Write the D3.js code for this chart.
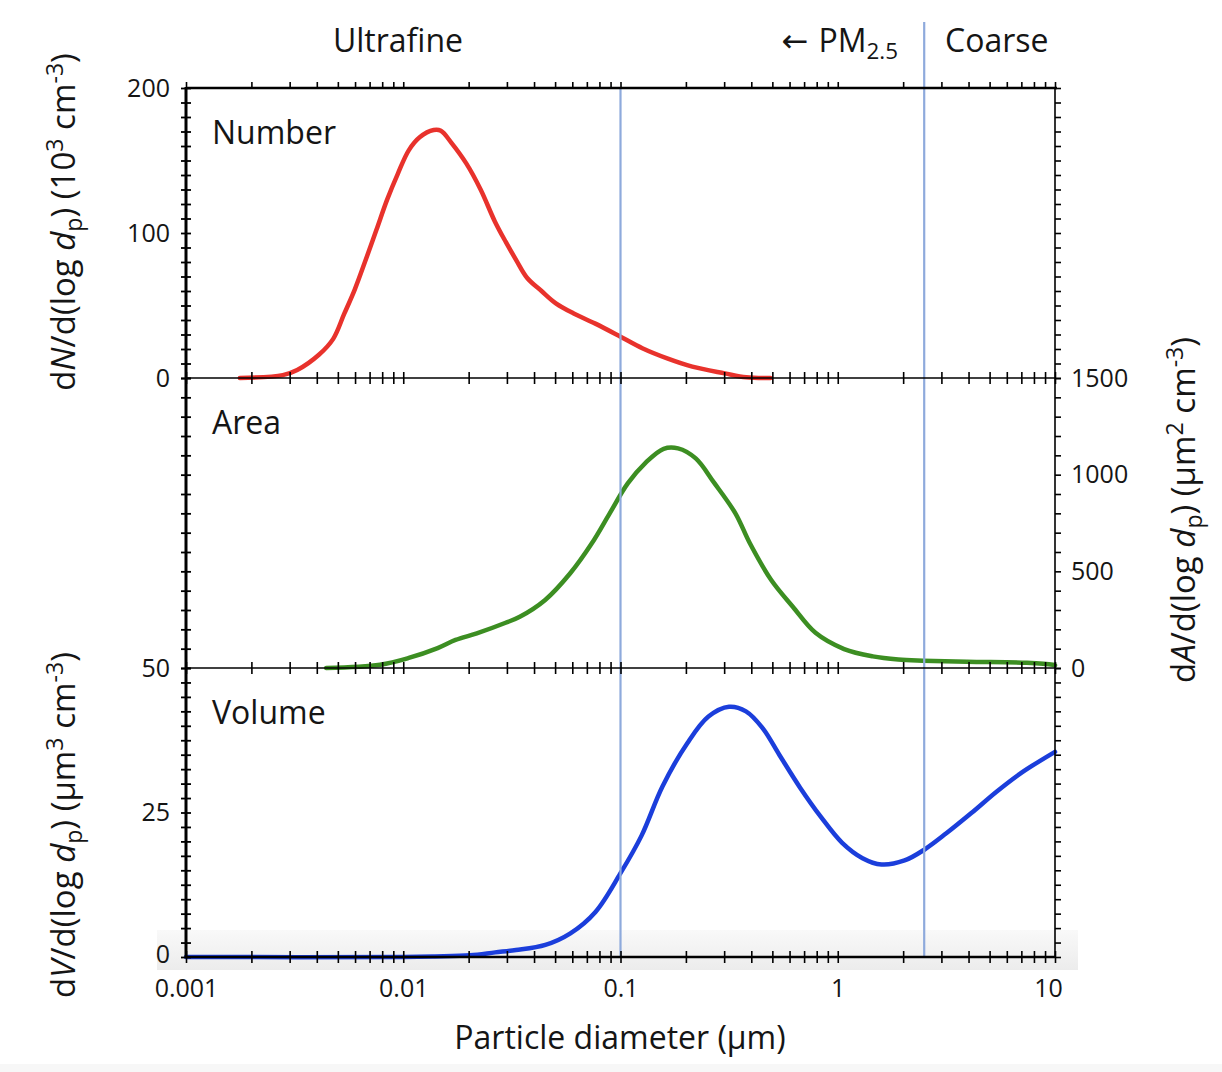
<!DOCTYPE html>
<html>
<head>
<meta charset="utf-8">
<script src="https://cdn.jsdelivr.net/npm/d3@7"></script>
<style>
body { margin: 0; background: #fff; }
text { font-family: "Open Sans", sans-serif; fill: #151515; }
</style>
</head>
<body>
<svg width="1222" height="1072"></svg>
<script>
/* Waarden: diameter (um) en dN, dA, dV per d(log dp) */
var numberDiam = [0.00177, 0.00279, 0.00325, 0.00409, 0.00476, 0.00534, 0.00598, 0.0067, 0.00752, 0.00843, 0.00945, 0.0106, 0.0119, 0.0138, 0.0149, 0.0167, 0.0195, 0.0227, 0.0264, 0.0296, 0.0332, 0.0372, 0.0433, 0.0504, 0.0609, 0.0766, 0.1, 0.126, 0.164, 0.214, 0.302, 0.379, 0.49];
var numberValue = [0, 2, 5.5, 16, 27, 44, 61, 81, 102, 123, 141, 157, 166, 171, 170.5, 162, 148, 130, 108, 94, 81, 69, 60, 51.5, 44.5, 37.5, 28.5, 20.5, 13.5, 7.8, 3.2, 0.5, 0];

var areaDiam = [0.00442, 0.00782, 0.0106, 0.0144, 0.0174, 0.0218, 0.0296, 0.0344, 0.045, 0.0587, 0.0738, 0.0892, 0.108, 0.13, 0.158, 0.184, 0.222, 0.269, 0.338, 0.394, 0.494, 0.621, 0.79, 1.07, 1.45, 1.9, 2.46, 3.93, 7.42, 9.77, 10];
var areaValue = [0, 17, 52, 103, 145, 179, 234, 265, 352, 490, 645, 800, 955, 1060, 1134, 1136, 1084, 960, 800, 645, 455, 317, 182, 98, 60, 44, 38, 32, 27, 17, 14];

var volumeDiam = [0.001, 0.01, 0.014, 0.0203, 0.0265, 0.033, 0.0451, 0.0588, 0.0767, 0.1, 0.125, 0.156, 0.203, 0.254, 0.316, 0.378, 0.451, 0.538, 0.671, 0.838, 1.045, 1.3, 1.59, 2.03, 2.51, 3.16, 4.12, 5.38, 7.02, 10];
var volumeValue = [0, 0, 0.1, 0.3, 0.8, 1.2, 2.1, 4.1, 7.8, 14.5, 21, 29.5, 37, 41.6, 43.3, 42.5, 39.6, 35, 29.3, 24.2, 19.8, 17.1, 16, 16.7, 18.6, 21.4, 24.9, 28.6, 31.9, 35.5];

/* As-labels */
var xTickValues = [0.001, 0.01, 0.1, 1, 10];
var xTickLabels = ["0.001", "0.01", "0.1", "1", "10"];
var numberTicks = [0, 100, 200];
var areaTicks = [0, 500, 1000, 1500];
var volumeTicks = [0, 25, 50];
var sizeBounds = [0.1, 2.5];

var svg = d3.select("svg");
var plotLeft = 186, plotRight = 1055, plotTop = 88, plotBottom = 957;

/* De x-as (logaritmisch) */
var x = d3.scaleLog().domain([0.001, 10]).range([plotLeft, plotRight]);

/* Drie y-schalen, een per paneel */
var yNumber = d3.scaleLinear().domain([0, 200]).range([378, plotTop]);
var yArea = d3.scaleLinear().domain([0, 1500]).range([668, 378]);
var yVolume = d3.scaleLinear().domain([0, 50]).range([plotBottom, 668]);

var panels = [
    {label: "Number", diam: numberDiam, value: numberValue, y: yNumber, step: 10, color: "#e8322c"},
    {label: "Area", diam: areaDiam, value: areaValue, y: yArea, step: 100, color: "#3c8e22"},
    {label: "Volume", diam: volumeDiam, value: volumeValue, y: yVolume, step: 2.5, color: "#1b3edb"}
];

/* Lichtgrijze band onderaan (zoals in het origineel) */
var grad = svg.append("defs").append("linearGradient")
    .attr("id", "band").attr("x1", 0).attr("y1", 0).attr("x2", 0).attr("y2", 1);
grad.append("stop").attr("offset", "0%").attr("stop-color", "#f9f9f9");
grad.append("stop").attr("offset", "100%").attr("stop-color", "#ececec");
svg.append("rect").attr("x", 157).attr("y", 930).attr("width", 921).attr("height", 40).attr("fill", "url(#band)");
svg.append("rect").attr("x", 0).attr("y", 1064).attr("width", 1222).attr("height", 8).attr("fill", "#f7f7f7");

/* Tekst met sub- en superscript */
function richText(sel, parts) {
    var shift = 0;
    parts.forEach(function(p) {
        var target = p.sub ? 7 : (p.sup ? -12 : 0);
        var t = sel.append("tspan").text(p.t).attr("dy", target - shift);
        if (p.sub || p.sup) t.attr("font-size", "0.7em");
        if (p.i) t.attr("font-style", "italic");
        if (p.font) t.style("font-family", p.font);
        shift = target;
    });
}

/* De curves */
panels.forEach(function(p) {
    var line = d3.line()
        .x(function(d) { return x(d[0]); })
        .y(function(d) { return p.y(d[1]); })
        .curve(d3.curveCatmullRom.alpha(0.5));

    svg.append("path")
        .datum(d3.zip(p.diam, p.value))
        .attr("fill", "none")
        .attr("stroke", p.color)
        .attr("stroke-width", 4.5)
        .attr("stroke-linejoin", "round")
        .attr("stroke-linecap", "round")
        .attr("d", line);
});

/* Verticale grenzen bij 0.1 en 2.5 um */
svg.selectAll(".bound")
    .data(sizeBounds)
    .enter().append("line")
    .attr("x1", function(d) { return x(d); })
    .attr("x2", function(d) { return x(d); })
    .attr("y1", function(d) { return d === 2.5 ? 22 : plotTop; })
    .attr("y2", plotBottom)
    .attr("stroke", "#8eaadc")
    .attr("stroke-width", 2.2);

/* Horizontale lijnen met log-ticks */
[378, 668, plotBottom].forEach(function(yy) {
    var g = svg.append("g")
        .attr("transform", "translate(0," + yy + ")")
        .call(d3.axisBottom(x).tickSize(6).tickFormat(""));
    g.select(".domain").remove();
    g.selectAll(".tick line").attr("y1", -6).attr("stroke-width", 1.6);
    svg.append("line").attr("x1", plotLeft).attr("x2", plotRight)
        .attr("y1", yy).attr("y2", yy)
        .attr("stroke", "#000").attr("stroke-width", yy === plotBottom ? 2.6 : 1.6);
});

var topAxis = svg.append("g")
    .attr("transform", "translate(0," + plotTop + ")")
    .call(d3.axisTop(x).tickSize(6).tickFormat(""));
topAxis.select(".domain").remove();
topAxis.selectAll(".tick line").attr("stroke-width", 1.6);
svg.append("line").attr("x1", plotLeft).attr("x2", plotRight + 2).attr("y1", plotTop).attr("y2", plotTop)
    .attr("stroke", "#000").attr("stroke-width", 2.6);

/* Y-ticks links en rechts, per paneel */
panels.forEach(function(p) {
    var d = p.y.domain();
    var vals = d3.range(d[0], d[1] + p.step / 2, p.step);

    var gl = svg.append("g")
        .attr("transform", "translate(" + plotLeft + ",0)")
        .call(d3.axisLeft(p.y).tickValues(vals).tickSize(5).tickFormat(""));
    gl.select(".domain").remove();
    gl.selectAll(".tick line").attr("x1", 5).attr("stroke-width", 1.8);

    var gr = svg.append("g")
        .attr("transform", "translate(" + plotRight + ",0)")
        .call(d3.axisRight(p.y).tickValues(vals).tickSize(6).tickFormat(""));
    gr.select(".domain").remove();
    gr.selectAll(".tick line").attr("stroke-width", 1.6);
});

svg.append("line").attr("x1", plotLeft).attr("x2", plotLeft).attr("y1", plotTop - 1).attr("y2", plotBottom + 1)
    .attr("stroke", "#000").attr("stroke-width", 3);
svg.append("line").attr("x1", plotRight).attr("x2", plotRight).attr("y1", plotTop).attr("y2", plotBottom)
    .attr("stroke", "#000").attr("stroke-width", 1.6);

/* Getallen bij de assen */
function labelAxis(axis, scale, values, xPos) {
    var g = svg.append("g")
        .attr("transform", "translate(" + xPos + ",0)")
        .call(axis(scale).tickValues(values).tickSize(0).tickPadding(16).tickFormat(d3.format("d")));
    g.select(".domain").remove();
    g.selectAll("text").attr("font-size", 25).attr("font-family", null).attr("fill", null);
    return g;
}
labelAxis(d3.axisLeft, yNumber, numberTicks, plotLeft);
labelAxis(d3.axisLeft, yVolume, volumeTicks, plotLeft)
    .selectAll("text").filter(function(d) { return d === 0; }).attr("dy", "0.2em");
labelAxis(d3.axisRight, yArea, areaTicks, plotRight);

var xl = svg.append("g")
    .attr("transform", "translate(0," + plotBottom + ")")
    .call(d3.axisBottom(x).tickValues(xTickValues).tickSize(0).tickPadding(22)
        .tickFormat(function(d, i) { return xTickLabels[i]; }));
xl.select(".domain").remove();
xl.selectAll("text").attr("font-size", 25).attr("font-family", null).attr("fill", null);
xl.selectAll("text").filter(function(d) { return d === 10; }).attr("dx", -7);

/* Paneelnamen */
svg.selectAll(".panel-label")
    .data(panels)
    .enter().append("text")
    .attr("x", 212)
    .attr("y", function(p) { return p.y.range()[1] + 56; })
    .attr("font-size", 32)
    .text(function(p) { return p.label; });

/* Bovenste labels */
svg.append("text").attr("x", 398).attr("y", 52).attr("text-anchor", "middle")
    .attr("font-size", 32).text("Ultrafine");
var pm = svg.append("text").attr("x", 898).attr("y", 52).attr("text-anchor", "end").attr("font-size", 32);
richText(pm, [{t: "\u2190 ", font: "DejaVu Sans"}, {t: "PM"}, {t: "2.5", sub: true}]);
svg.append("text").attr("x", 945).attr("y", 52).attr("font-size", 32).text("Coarse");

/* As-titels */
svg.append("text").attr("x", 620).attr("y", 1049).attr("text-anchor", "middle")
    .attr("font-size", 32).text("Particle diameter (\u03bcm)");

var tN = svg.append("text").attr("transform", "translate(75,222) rotate(-90)")
    .attr("text-anchor", "middle").attr("font-size", 33);
richText(tN, [{t: "d"}, {t: "N", i: true}, {t: "/d(log "}, {t: "d", i: true}, {t: "p", sub: true},
    {t: ") (10"}, {t: "3", sup: true}, {t: " cm"}, {t: "-3", sup: true}, {t: ")"}]);

var tV = svg.append("text").attr("transform", "translate(75,825) rotate(-90)")
    .attr("text-anchor", "middle").attr("font-size", 33);
richText(tV, [{t: "d"}, {t: "V", i: true}, {t: "/d(log "}, {t: "d", i: true}, {t: "p", sub: true},
    {t: ") (\u03bcm"}, {t: "3", sup: true}, {t: " cm"}, {t: "-3", sup: true}, {t: ")"}]);

var tA = svg.append("text").attr("transform", "translate(1195,510) rotate(-90)")
    .attr("text-anchor", "middle").attr("font-size", 33);
richText(tA, [{t: "d"}, {t: "A", i: true}, {t: "/d(log "}, {t: "d", i: true}, {t: "p", sub: true},
    {t: ") (\u03bcm"}, {t: "2", sup: true}, {t: " cm"}, {t: "-3", sup: true}, {t: ")"}]);
</script>
</body>
</html>
